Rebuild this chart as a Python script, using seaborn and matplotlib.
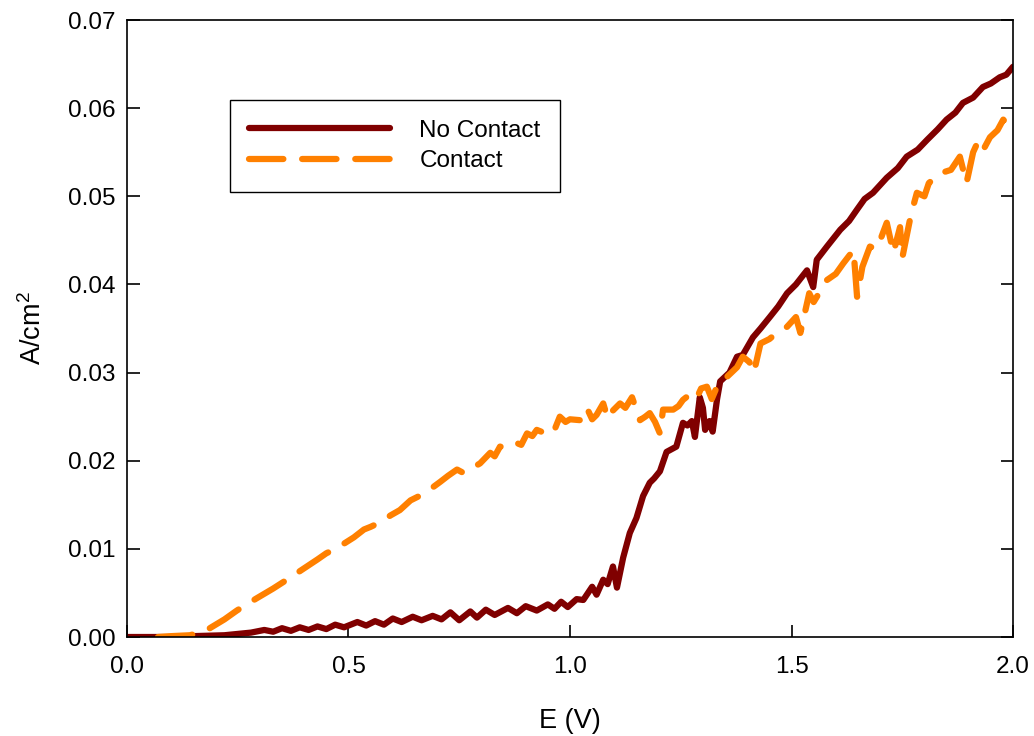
import numpy as np
import pandas as pd
import matplotlib
matplotlib.use("Agg")
import matplotlib.pyplot as plt
import seaborn as sns
from matplotlib.lines import Line2D

# No Contact curve (E in V, current density in A/cm2)
e_nocontact = [0.00, 0.10, 0.15, 0.22, 0.28, 0.31, 0.33, 0.35, 0.37, 0.39,
               0.41, 0.43, 0.45, 0.47, 0.49, 0.52, 0.54, 0.56, 0.58, 0.60,
               0.62, 0.645, 0.665, 0.69, 0.71, 0.73, 0.75, 0.775, 0.79, 0.81,
               0.83, 0.86, 0.88, 0.90, 0.925, 0.95, 0.965, 0.98, 0.995, 1.015,
               1.03, 1.05, 1.06, 1.075, 1.085, 1.097, 1.106, 1.12, 1.135, 1.15,
               1.165, 1.18, 1.19, 1.203, 1.218, 1.24, 1.255, 1.265, 1.275, 1.282,
               1.293, 1.300, 1.305, 1.315, 1.322, 1.332, 1.339, 1.36, 1.377, 1.39,
               1.413, 1.43, 1.451, 1.47, 1.49, 1.51, 1.535, 1.549, 1.557, 1.58,
               1.61, 1.63, 1.648, 1.665, 1.684, 1.715, 1.74, 1.76, 1.785, 1.806,
               1.83, 1.85, 1.87, 1.887, 1.91, 1.932, 1.95, 1.97, 1.985, 2.00]
j_nocontact = [0.0000, 0.0000, 0.0001, 0.0002, 0.0005, 0.0008, 0.0006, 0.0010, 0.0007, 0.0011,
               0.0008, 0.0012, 0.0009, 0.0014, 0.0011, 0.0017, 0.0013, 0.0018, 0.0014, 0.0021,
               0.0017, 0.0023, 0.0019, 0.0024, 0.0020, 0.0028, 0.0019, 0.0029, 0.0022, 0.0031,
               0.0025, 0.0033, 0.0027, 0.0035, 0.0030, 0.0037, 0.0032, 0.0040, 0.0034, 0.0043,
               0.0042, 0.0057, 0.0048, 0.0065, 0.0060, 0.0080, 0.0056, 0.0090, 0.0118, 0.0135,
               0.0160, 0.0175, 0.0180, 0.0188, 0.0210, 0.0216, 0.0243, 0.0240, 0.0245, 0.0227,
               0.0272, 0.0260, 0.0235, 0.0245, 0.0233, 0.0270, 0.0290, 0.0300, 0.0318, 0.0320,
               0.0340, 0.0350, 0.0363, 0.0375, 0.0390, 0.0400, 0.0416, 0.0397, 0.0428, 0.0443,
               0.0462, 0.0472, 0.0485, 0.0497, 0.0504, 0.0521, 0.0532, 0.0545, 0.0553, 0.0564,
               0.0576, 0.0587, 0.0595, 0.0606, 0.0612, 0.0624, 0.0628, 0.0635, 0.0638, 0.0647]

# Contact curve
e_contact = [0.07, 0.10, 0.142, 0.165, 0.187, 0.22, 0.248, 0.27, 0.293, 0.33,
             0.361, 0.385, 0.406, 0.43, 0.45, 0.467, 0.49, 0.512, 0.535, 0.55,
             0.571, 0.595, 0.616, 0.64, 0.66, 0.68, 0.707, 0.725, 0.745, 0.76,
             0.78, 0.797, 0.82, 0.83, 0.842, 0.86, 0.88, 0.89, 0.903, 0.915,
             0.925, 0.94, 0.955, 0.965, 0.977, 0.99, 1.00, 1.023, 1.038, 1.05,
             1.06, 1.075, 1.085, 1.095, 1.113, 1.125, 1.14, 1.158, 1.17, 1.18,
             1.192, 1.203, 1.21, 1.233, 1.245, 1.255, 1.27, 1.285, 1.296, 1.309,
             1.32, 1.335, 1.354, 1.377, 1.39, 1.405, 1.415, 1.43, 1.45, 1.467,
             1.49, 1.51, 1.52, 1.54, 1.55, 1.58, 1.60, 1.617, 1.64, 1.648,
             1.66, 1.677, 1.69, 1.70, 1.715, 1.73, 1.745, 1.75, 1.77, 1.783,
             1.80, 1.81, 1.835, 1.86, 1.88, 1.895, 1.91, 1.919, 1.93, 1.948,
             1.965, 1.978, 1.99, 2.00]
j_contact = [0.0000, 0.0001, 0.0002, 0.0005, 0.0010, 0.0020, 0.0030, 0.0037, 0.0044, 0.0055,
             0.0065, 0.0073, 0.0080, 0.0088, 0.0095, 0.0099, 0.0106, 0.0113, 0.0122, 0.0125,
             0.0130, 0.0138, 0.0144, 0.0155, 0.0160, 0.0166, 0.0176, 0.0183, 0.0190, 0.0186,
             0.0192, 0.0197, 0.0209, 0.0205, 0.0216, 0.0215, 0.0220, 0.0218, 0.0231, 0.0228,
             0.0235, 0.0232, 0.0238, 0.0235, 0.0250, 0.0244, 0.0247, 0.0246, 0.0260, 0.0247,
             0.0252, 0.0265, 0.0248, 0.0256, 0.0265, 0.0260, 0.0272, 0.0246, 0.0250, 0.0254,
             0.0244, 0.0231, 0.0258, 0.0258, 0.0262, 0.0269, 0.0275, 0.0270, 0.0282, 0.0284,
             0.0270, 0.0288, 0.0295, 0.0306, 0.0318, 0.0312, 0.0300, 0.0333, 0.0338, 0.0345,
             0.0352, 0.0363, 0.0345, 0.0390, 0.0380, 0.0405, 0.0412, 0.0424, 0.0439, 0.0386,
             0.0420, 0.0443, 0.0440, 0.0450, 0.0470, 0.0436, 0.0465, 0.0430, 0.0480, 0.0504,
             0.0500, 0.0515, 0.0526, 0.0530, 0.0545, 0.0515, 0.0550, 0.0560, 0.0550, 0.0567,
             0.0575, 0.0587, 0.0580, 0.0578]

labels = ["No Contact", "Contact"]
colors = {"No Contact": "#800000", "Contact": "#ff8000"}
dash = (5.5, 3.0)

df = pd.concat([
    pd.DataFrame({"E": e_nocontact, "j": j_nocontact, "series": "No Contact"}),
    pd.DataFrame({"E": e_contact, "j": j_contact, "series": "Contact"}),
])

sns.set_theme(style="ticks")
plt.rcParams["font.family"] = ["Liberation Sans", "DejaVu Sans"]
plt.rcParams["mathtext.fontset"] = "custom"
plt.rcParams["mathtext.rm"] = "Liberation Sans"
plt.rcParams["text.color"] = "black"
plt.rcParams["axes.labelcolor"] = "black"

fig = plt.figure(figsize=(10.34, 7.36), dpi=100)
ax = fig.add_axes([0.1228, 0.1345, 0.8569, 0.8383])

sns.lineplot(data=df, x="E", y="j", hue="series", style="series",
             hue_order=labels, style_order=labels, palette=colors,
             dashes={"No Contact": "", "Contact": dash},
             lw=4.5, solid_capstyle="round", dash_capstyle="round",
             sort=False, estimator=None, legend=False, ax=ax)

ax.set_xlim(0, 2.0)
ax.set_ylim(0, 0.07)
ax.set_xticks([0.0, 0.5, 1.0, 1.5, 2.0])
ax.set_yticks(np.arange(0, 0.071, 0.01))
ax.xaxis.set_major_formatter(plt.FormatStrFormatter("%.1f"))
ax.yaxis.set_major_formatter(plt.FormatStrFormatter("%.2f"))
ax.tick_params(axis="both", direction="in", length=9, width=1.2,
               labelsize=17.5, colors="black", right=True, top=False)
ax.tick_params(axis="x", pad=14)
ax.tick_params(axis="y", pad=8)
for s in ax.spines.values():
    s.set_visible(True)
    s.set_linewidth(1.2)
    s.set_color("black")

ax.set_xlabel("E (V)", fontsize=19.5, labelpad=21)
ax.set_ylabel("A/cm$^2$", fontsize=19.5, labelpad=15)

handles = [Line2D([], [], color=colors["No Contact"], lw=4.5, solid_capstyle="round"),
           Line2D([], [], color=colors["Contact"], lw=4.5, dashes=dash,
                  dash_capstyle="round")]
leg = ax.legend(handles, labels, loc="upper left", bbox_to_anchor=(0.116, 0.87),
                borderaxespad=0, fontsize=17.5, handlelength=5.8, handletextpad=1.2,
                labelspacing=0.35, borderpad=0.8, fancybox=False, framealpha=1,
                edgecolor="black")
leg.get_frame().set_linewidth(1.0)

fig.savefig("out.png", dpi=100)
